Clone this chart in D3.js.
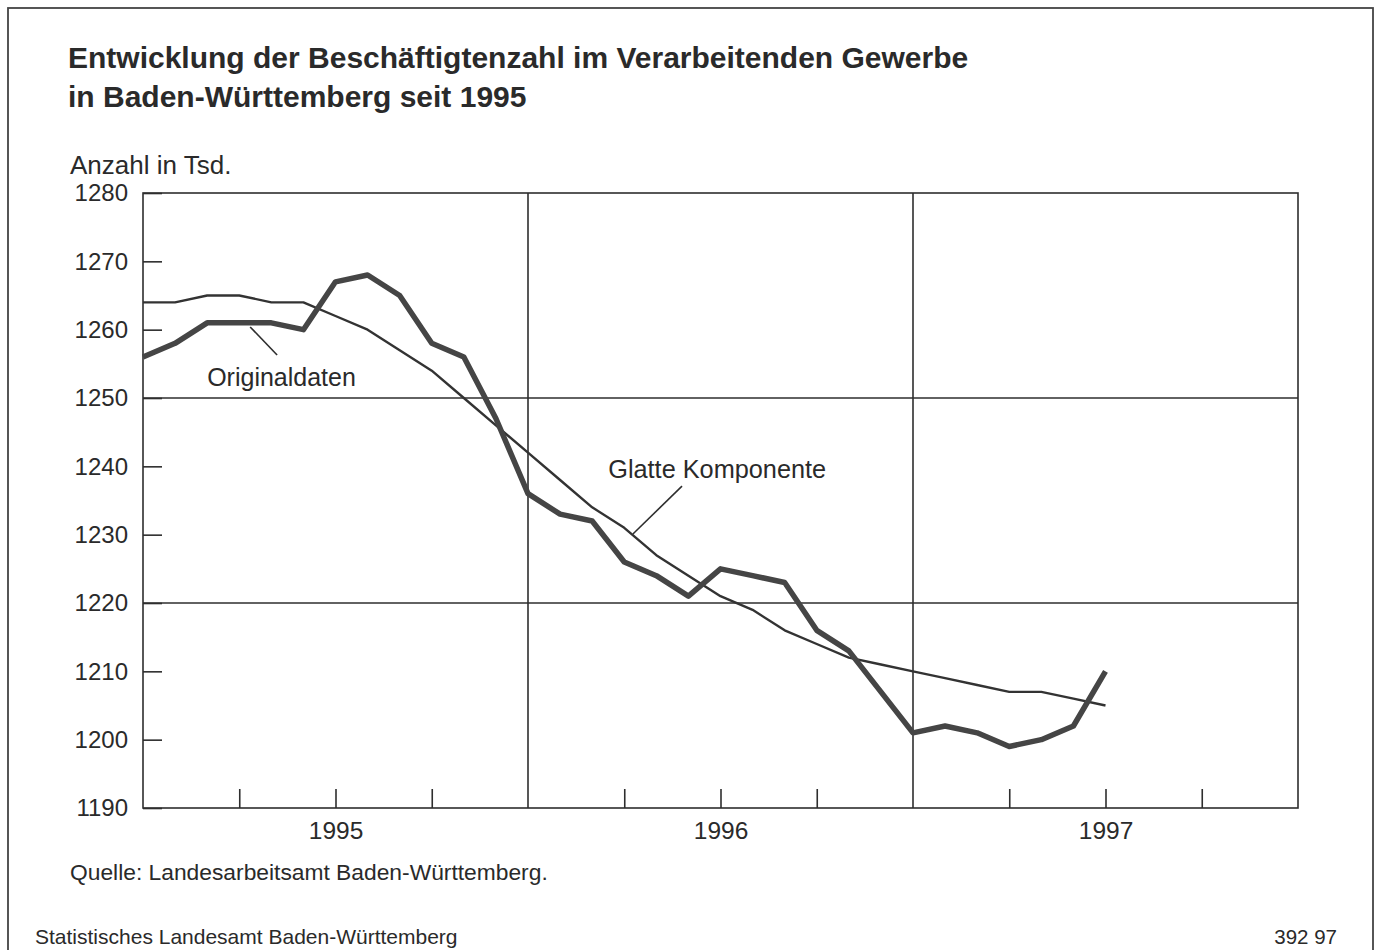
<!DOCTYPE html>
<html><head><meta charset="utf-8">
<script src="https://cdn.jsdelivr.net/npm/d3@7"></script>
<style>
html,body{margin:0;padding:0;background:#fff;}
svg text{font-family:"Liberation Sans",Arial,Helvetica,sans-serif;fill:#2a2a2a;}
</style></head>
<body>
<svg id="c" width="1380" height="950"></svg>
<script>
// Monthly data, Jan 1995 = index 0
const months = d3.range(0, 31).map(i => `${1995 + Math.floor(i / 12)}-${String(i % 12 + 1).padStart(2, "0")}`);
const originaldaten = [1256,1258,1261,1261,1261,1260,1267,1268,1265,1258,1256,1247,1236,1233,1232,1226,1224,1221,1225,1224,1223,1216,1213,1207,1201,1202,1201,1199,1200,1202,1210];
const glatteKomponente = [1264,1264,1265,1265,1264,1264,1262,1260,1257,1254,1250,1246,1242,1238,1234,1231,1227,1224,1221,1219,1216,1214,1212,1211,1210,1209,1208,1207,1207,1206,1205];
const yTickValues = [1190,1200,1210,1220,1230,1240,1250,1260,1270,1280];
const yGridValues = [1220,1250];
const quarterTicks = [3,6,9,15,18,21,27,30,33];
const yearBoundaries = [12,24];
const yearLabels = ["1995","1996","1997"];
const yearCenters = [6,18,30];

(function(){
const svg = d3.select("#c");
const pL = 143, pR = 1298, pT = 193, pB = 808;
const x = d3.scaleLinear().domain([0, 36]).range([pL, pR]);
const y = d3.scaleLinear().domain([1190, 1280]).range([pB, pT]);
const ink = "#2e2e2e";
const ff = "Liberation Sans, Arial, sans-serif";

// outer frame
svg.append("rect").attr("x", 8).attr("y", 8).attr("width", 1365).attr("height", 960)
  .attr("fill", "none").attr("stroke", "#444").attr("stroke-width", 1.8);

// titles
const t = svg.append("text").attr("x", 68).attr("y", 68).attr("font-size", 30).attr("font-weight", "bold").attr("fill", "#333");
t.append("tspan").attr("x", 68).text("Entwicklung der Beschäftigtenzahl im Verarbeitenden Gewerbe");
t.append("tspan").attr("x", 68).attr("dy", 39).text("in Baden-Württemberg seit 1995");

svg.append("text").attr("x", 70).attr("y", 174).attr("font-size", 26).text("Anzahl in Tsd.");

// grid lines
svg.append("g").selectAll("line").data(yGridValues).join("line")
  .attr("x1", pL).attr("x2", pR).attr("y1", d => y(d)).attr("y2", d => y(d))
  .attr("stroke", ink).attr("stroke-width", 1.6);
svg.append("g").selectAll("line").data(yearBoundaries).join("line")
  .attr("x1", d => x(d)).attr("x2", d => x(d)).attr("y1", pT).attr("y2", pB)
  .attr("stroke", ink).attr("stroke-width", 1.6);

// y axis
const yAxis = svg.append("g").attr("transform", `translate(${pL},0)`)
  .call(d3.axisLeft(y).tickValues(yTickValues).tickSize(-19).tickPadding(15).tickFormat(d3.format("d")));
yAxis.select(".domain").remove();
yAxis.selectAll("line").attr("stroke", ink).attr("stroke-width", 1.6);
yAxis.selectAll("text").attr("font-size", 24).attr("fill", "#2a2a2a").attr("font-family", ff);

// x axis ticks
const xAxis = svg.append("g").attr("transform", `translate(0,${pB})`)
  .call(d3.axisBottom(x).tickValues(quarterTicks).tickSize(-19).tickFormat(""));
xAxis.select(".domain").remove();
xAxis.selectAll("line").attr("stroke", ink).attr("stroke-width", 1.6);

// year labels
const xLab = svg.append("g").attr("transform", `translate(0,${pB})`)
  .call(d3.axisBottom(x).tickValues(yearCenters).tickSize(0).tickPadding(14).tickFormat((d, i) => yearLabels[i]));
xLab.select(".domain").remove();
xLab.selectAll("text").attr("font-size", 24.5).attr("fill", "#2a2a2a").attr("font-family", ff);

// plot frame
svg.append("rect").attr("x", pL).attr("y", pT).attr("width", pR - pL).attr("height", pB - pT)
  .attr("fill", "none").attr("stroke", ink).attr("stroke-width", 1.6);

// lines
const line = d3.line().x((d, i) => x(i)).y(d => y(d));
svg.append("path").datum(glatteKomponente).attr("d", line)
  .attr("fill", "none").attr("stroke", "#333").attr("stroke-width", 2.4).attr("stroke-linejoin", "round");
svg.append("path").datum(originaldaten).attr("d", line)
  .attr("fill", "none").attr("stroke", "#454545").attr("stroke-width", 5.5).attr("stroke-linejoin", "round");

// annotations
svg.append("line").attr("x1", x(3.34)).attr("y1", y(1260.4)).attr("x2", x(4.18)).attr("y2", y(1256.3))
  .attr("stroke", ink).attr("stroke-width", 1.6);
svg.append("text").attr("x", x(2.0)).attr("y", y(1253.1) + 9).attr("font-size", 25).text("Originaldaten");
svg.append("line").attr("x1", x(16.8)).attr("y1", y(1237.1)).attr("x2", x(15.27)).attr("y2", y(1230.1))
  .attr("stroke", ink).attr("stroke-width", 1.6);
svg.append("text").attr("x", x(14.5)).attr("y", y(1239.6) + 9).attr("font-size", 25.3).text("Glatte Komponente");

// source and footer
svg.append("text").attr("x", 70).attr("y", 880).attr("font-size", 22.8).text("Quelle: Landesarbeitsamt Baden-Württemberg.");
svg.append("text").attr("x", 35).attr("y", 944).attr("font-size", 21).text("Statistisches Landesamt Baden-Württemberg");
svg.append("text").attr("x", 1337).attr("y", 944).attr("font-size", 20.5).attr("text-anchor", "end").text("392 97");
})();
</script>
</body></html>
